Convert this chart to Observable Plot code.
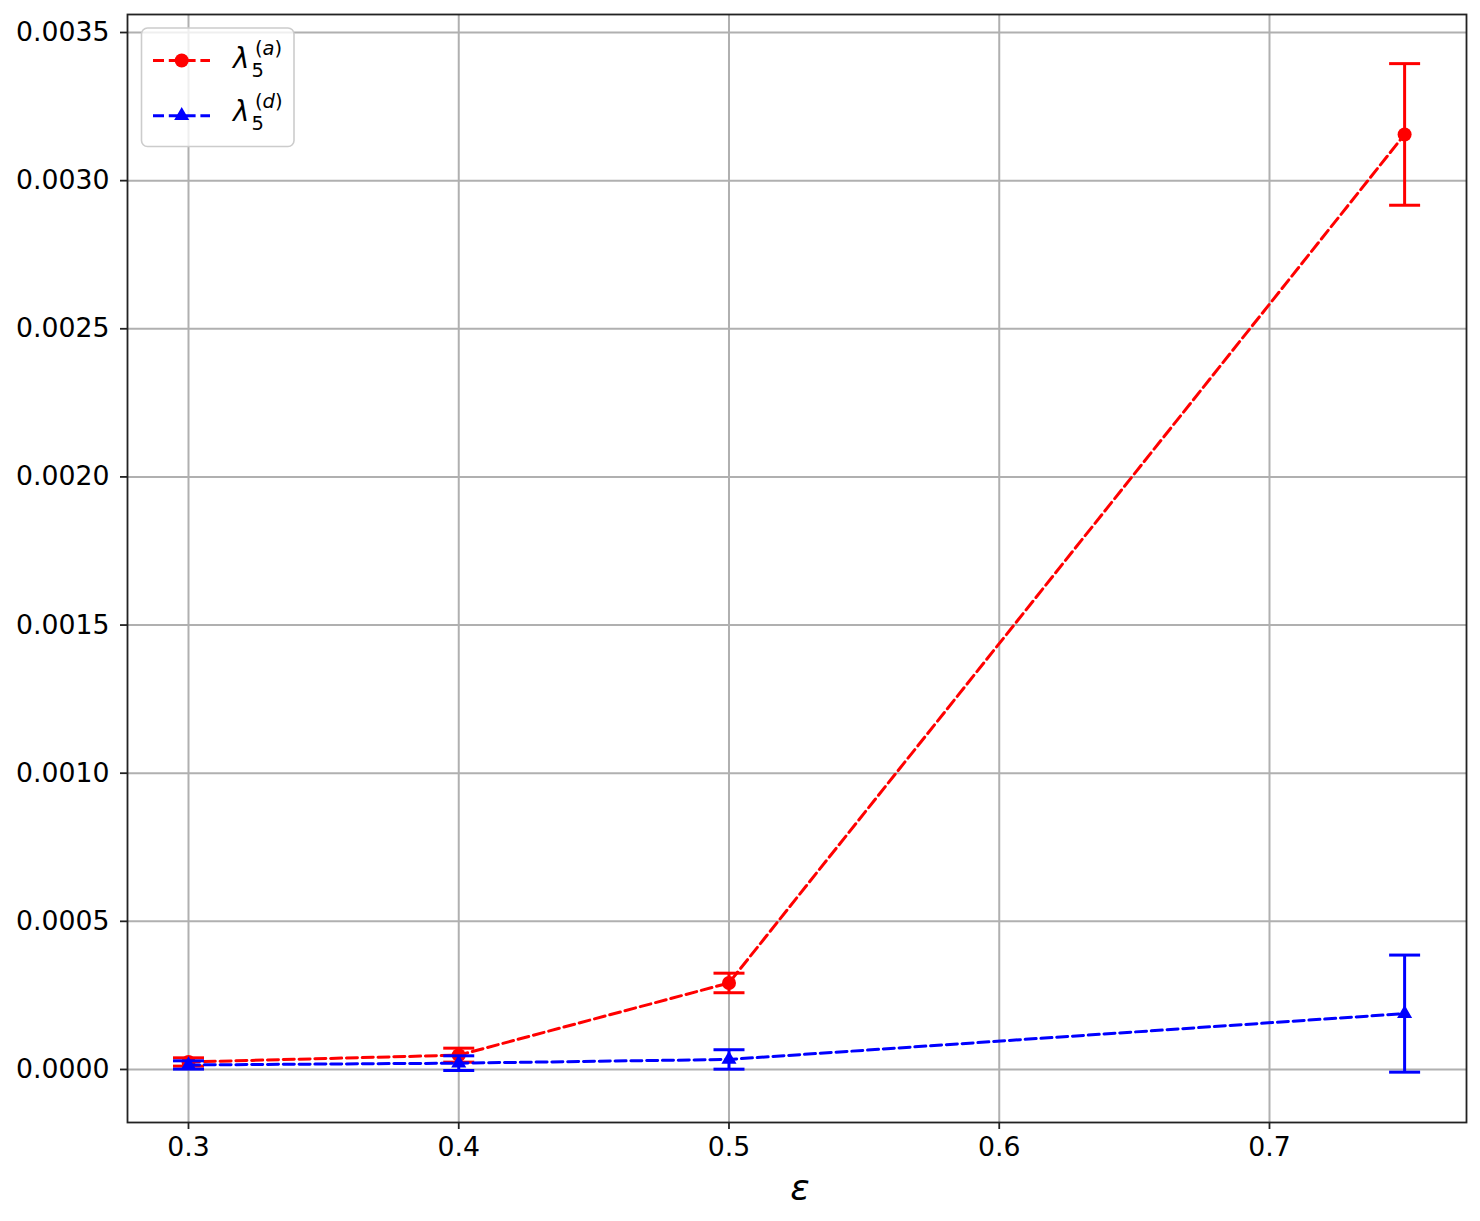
<!DOCTYPE html>
<html>
<head>
<meta charset="utf-8">
<script src="https://cdn.jsdelivr.net/npm/d3@7"></script>
<script src="https://cdn.jsdelivr.net/npm/@observablehq/plot@0.6"></script>
<style>
  html, body { margin: 0; padding: 0; background: #fff; }
  #chart { width: 1480px; height: 1221px; }
</style>
</head>
<body>
<div id="chart"></div>
<script>
// ---- data ----
const eps   = [0.3, 0.4, 0.5, 0.75];
const lamA  = [0.0000253, 0.0000483, 0.000292, 0.003156];
const errA  = [0.000014, 0.0000236, 0.000033, 0.000239];
const lamD  = [0.0000152, 0.0000213, 0.0000338, 0.0001885];
const errD  = [0.000014, 0.0000248, 0.0000328, 0.0001976];
const xTicks = [0.3, 0.4, 0.5, 0.6, 0.7];
const yTicks = [0, 0.0005, 0.001, 0.0015, 0.002, 0.0025, 0.003, 0.0035];
const xLabel = "ε";

const rowsA = eps.map((x, i) => ({x, y: lamA[i], lo: lamA[i] - errA[i], hi: lamA[i] + errA[i]}));
const rowsD = eps.map((x, i) => ({x, y: lamD[i], lo: lamD[i] - errD[i], hi: lamD[i] + errD[i]}));

const RED = "#ff0000", BLUE = "#0000ff";
const capSymbol = { draw(ctx) { ctx.moveTo(-15.5, 0); ctx.lineTo(15.5, 0); } };

function seriesMarks(rows, color, symbol, r) {
  return [
    Plot.line(rows, {x: "x", y: "y", stroke: color, strokeWidth: 3, strokeDasharray: "11,4.8"}),
    Plot.ruleX(rows, {x: "x", y1: "lo", y2: "hi", stroke: color, strokeWidth: 3}),
    Plot.dot(rows, {x: "x", y: "lo", symbol: capSymbol, stroke: color, strokeWidth: 3, fill: "none"}),
    Plot.dot(rows, {x: "x", y: "hi", symbol: capSymbol, stroke: color, strokeWidth: 3, fill: "none"}),
    Plot.dot(rows, {x: "x", y: "y", symbol, r, fill: color, stroke: "none"})
  ];
}

const chart = Plot.plot({
  width: 1480,
  height: 1221,
  marginLeft: 127,
  marginRight: 14,
  marginTop: 14,
  marginBottom: 99,
  style: {fontFamily: "'DejaVu Sans', sans-serif", fontSize: "26.7px", color: "#000", background: "#fff"},
  x: {domain: [0.27743, 0.7729]},
  y: {domain: [-0.000179, 0.0035608]},
  marks: [
    Plot.gridX(xTicks, {stroke: "#b0b0b0", strokeOpacity: 1, strokeWidth: 2}),
    Plot.gridY(yTicks, {stroke: "#b0b0b0", strokeOpacity: 1, strokeWidth: 2}),
    Plot.axisX(xTicks, {tickFormat: d3.format(".1f"), tickSize: 7, tickPadding: 8, label: null, stroke: "#222", strokeWidth: 1.8}),
    Plot.axisY(yTicks, {tickFormat: d3.format(".4f"), tickSize: 7, tickPadding: 11, label: null, stroke: "#222", strokeWidth: 1.8}),
    ...seriesMarks(rowsA, RED, "circle", 7),
    ...seriesMarks(rowsD, BLUE, "triangle", 5.6),
    Plot.frame({stroke: "#222", strokeWidth: 1.8}),
    Plot.text([xLabel], {text: d => d, frameAnchor: "bottom", dy: 77, dx: 3, fontSize: 36, fontStyle: "italic", fill: "#000"})
  ]
});

document.getElementById("chart").appendChild(chart);

// ---- legend (drawn into the plot's SVG) ----
const svg = d3.select(chart);
const lg = svg.append("g").attr("font-family", "'DejaVu Sans', sans-serif").attr("text-anchor", "start");
lg.append("rect").attr("x", 141.5).attr("y", 28).attr("width", 152.5).attr("height", 118.5)
  .attr("rx", 6).attr("fill", "#fff").attr("fill-opacity", 0.8).attr("stroke", "#cccccc").attr("stroke-width", 1.6);

const entries = [
  {color: RED, sym: d3.symbolCircle, size: Math.PI * 49, ly: 60.5, base: 68, sup: "a"},
  {color: BLUE, sym: d3.symbolTriangle, size: Math.PI * 5.6 * 5.6, ly: 115.7, base: 121, sup: "d"}
];
for (const e of entries) {
  lg.append("line").attr("x1", 153).attr("x2", 210).attr("y1", e.ly).attr("y2", e.ly)
    .attr("stroke", e.color).attr("stroke-width", 3).attr("stroke-dasharray", "11,4.8");
  lg.append("path").attr("d", d3.symbol(e.sym, e.size)()).attr("transform", `translate(181.7,${e.ly})`).attr("fill", e.color);
  lg.append("text").attr("x", 233).attr("y", e.base).attr("font-size", 27.7).attr("font-style", "italic").text("λ");
  lg.append("text").attr("x", 251.5).attr("y", e.base + 8.5).attr("font-size", 19.5).text("5");
  const t = lg.append("text").attr("x", 255).attr("y", e.base - 13).attr("font-size", 19.5);
  t.append("tspan").text("(");
  t.append("tspan").attr("font-style", "italic").text(e.sup);
  t.append("tspan").text(")");
}
</script>
</body>
</html>
